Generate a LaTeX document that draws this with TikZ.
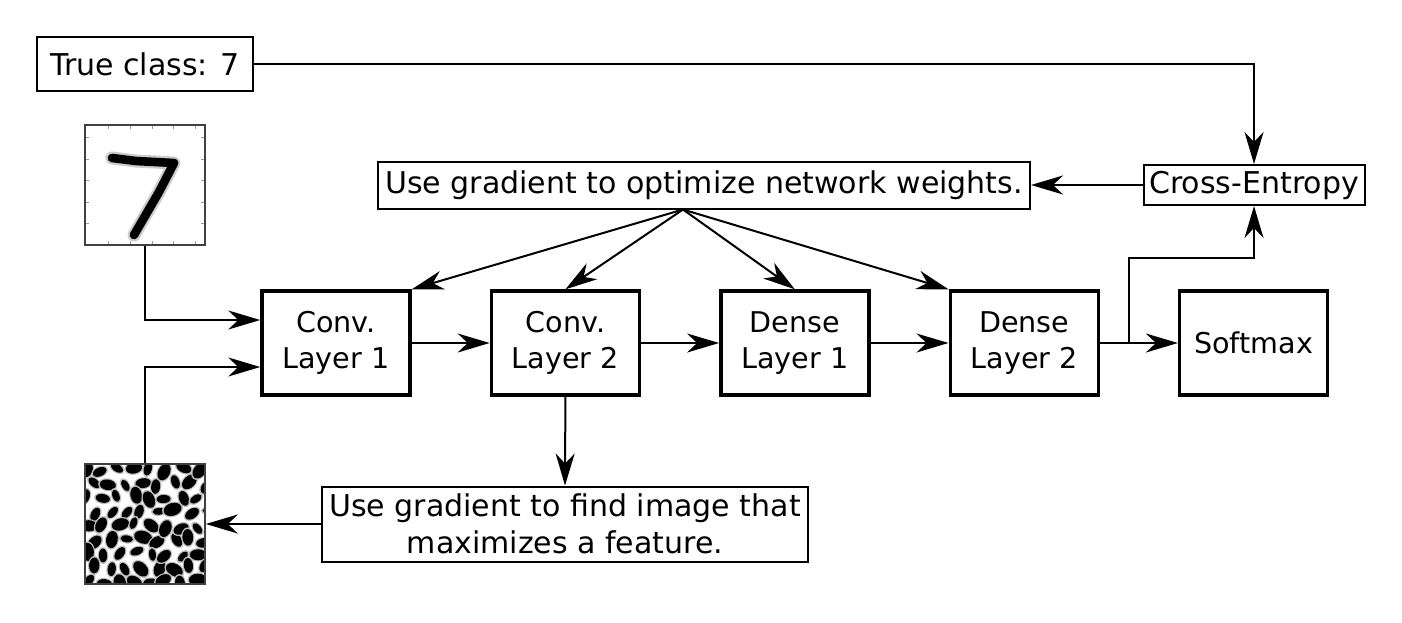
\documentclass[tikz,border=0pt]{standalone}
\usepackage{fontspec}
\setmainfont{DejaVu Sans}
\usepackage{tikz}
\usetikzlibrary{arrows.meta}
\usetikzlibrary{positioning}
\tikzstyle{layer}=[draw,line width=1.7pt,minimum width=74pt,minimum height=52pt,align=center,inner sep=1pt]
\tikzstyle{note}=[draw,line width=1pt,align=center,inner sep=2pt,font=\fontsize{15}{18.5}\selectfont]
\tikzstyle{picframe}=[draw=black!75,line width=0.8pt,minimum size=60pt,inner sep=0pt]

\begin{document}
\begin{tikzpicture}[x=0.5pt,y=-0.5pt,line width=1pt,>={Stealth[length=16pt,width=9.5pt,inset=5pt]},
  font=\fontsize{14.3}{18}\selectfont,node distance=39pt]
\useasboundingbox (0,0) rectangle (1402,622);

\node [layer] (conv1) at (336,343) {Conv.\\Layer 1};
\node [layer,right=of conv1] (conv2) {Conv.\\Layer 2};
\node [layer,right=of conv2] (dense1) {Dense\\Layer 1};
\node [layer,right=of dense1] (dense2) {Dense\\Layer 2};
\node [layer,right=of dense2] (softmax) {Softmax};

\node [note,minimum width=108pt,minimum height=27pt] (true) at (145,64) {True class: 7};
\node [note,minimum width=326pt,minimum height=23.5pt] (optim) at (704,185) {Use gradient to optimize network weights.};
\node [note,minimum width=110.5pt,minimum height=20pt] (xent) at (1254,185) {Cross-Entropy};
\node [note,minimum width=243pt,minimum height=37.5pt] (featopt) at (565,524) {Use gradient to find image that\\maximizes a feature.};

% input digit
\node [picframe] (digit) at (145,185) {};
\foreach \t in {108,130,152,173,195} {
  \draw[black!40,line width=0.4pt] (\t,126) -- ++(0,3) (\t,244) -- ++(0,-3);
}
\foreach \t in {137,159,180,202,223} {
  \draw[black!40,line width=0.4pt] (86,\t) -- ++(3,0) (204,\t) -- ++(-3,0);
}
\draw[black!20,line width=6.5pt,line join=round,line cap=round] (112,158) -- (136,161) -- (174,163) -- (159,192) -- (134,235);
\draw[black,line width=4.3pt,line join=round,line cap=round] (112,158) -- (136,161) -- (174,163) -- (159,192) -- (134,235);

% optimized image
\begin{scope}
\clip (85,465) rectangle (205,583);
\pgfmathsetseed{11}
\foreach \i in {0,...,7} {
  \foreach \j in {0,...,8} {
    \pgfmathsetmacro\bx{86+\i*16+mod(\j,2)*8+rand*3}
    \pgfmathsetmacro\by{470+\j*14+rand*3}
    \pgfmathsetmacro\br{1.7+1.5*rnd}
    \pgfmathsetmacro\ba{360*rnd}
    \fill[black!25,rotate around={\ba:(\bx,\by)}] (\bx,\by) ellipse[x radius=\br pt+2.2pt,y radius=\br pt+0.6pt];
    \fill[rotate around={\ba:(\bx,\by)}] (\bx,\by) ellipse[x radius=\br pt+1.4pt,y radius=\br pt];
  }
}
\end{scope}
\node [picframe] (noise) at (145,524) {};

% connectors
\draw[->] (true.east) -| (xent.north);
\draw[->] (xent.west) -- (optim.east);
\coordinate (fan) at ([xshift=-10.5pt]optim.south);
\foreach \t in {conv1.north east,conv2.north,dense1.north,dense2.north west}
  \draw[->] (fan) -- (\t);
\draw[->] (digit.south) |- ([yshift=11.5pt]conv1.west);
\draw[->] (noise.north) |- ([yshift=-12pt]conv1.west);
\draw[->] (conv1) -- (conv2);
\draw[->] (conv2) -- (dense1);
\draw[->] (dense1) -- (dense2);
\draw[->] (dense2) -- (softmax);
\coordinate (split) at ([xshift=14.5pt]dense2.east);
\draw[->] (split) -- ++(0,-85) -| (xent.south);
\draw[->] (conv2.south) -- (featopt.north);
\draw[->] (featopt.west) -- (noise.east);
\end{tikzpicture}
\end{document}
